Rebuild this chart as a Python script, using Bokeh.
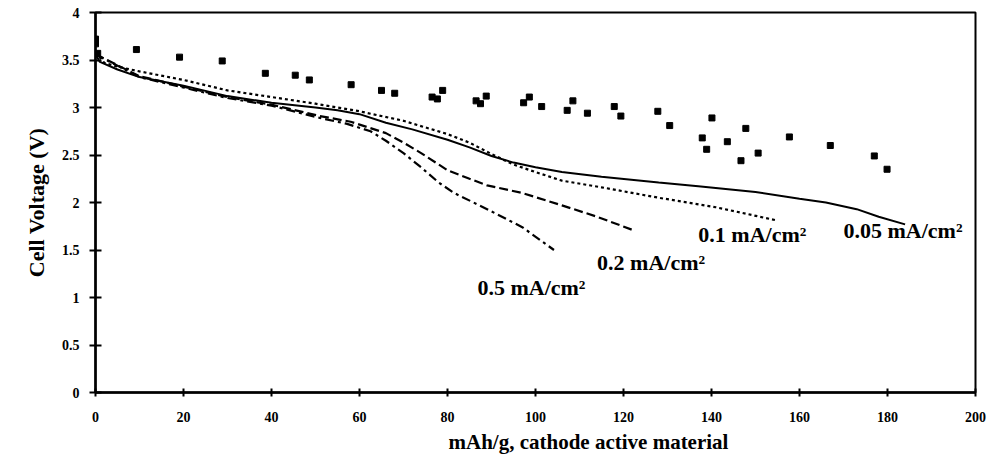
from bokeh.plotting import figure
from bokeh.models import Range1d, FixedTicker, ColumnDataSource, Title
from bokeh.core.properties import value
from bokeh.embed import file_html
from bokeh.resources import INLINE

# ---- data ----
x_005 = [0, 1, 5, 10, 20, 30, 40, 50, 55, 60, 66, 72, 80, 85, 90, 95, 100, 106, 115, 128, 137, 150, 160, 166, 173, 178, 184]
y_005 = [3.56, 3.48, 3.40, 3.32, 3.23, 3.12, 3.05, 3.00, 2.97, 2.93, 2.84, 2.77, 2.66, 2.58, 2.49, 2.42, 2.37, 2.32, 2.27, 2.21, 2.17, 2.11, 2.04, 2.00, 1.93, 1.85, 1.77]

x_01 = [0, 2, 5, 10, 20, 30, 40, 50, 60, 70, 80, 85, 90, 95, 100, 106, 115, 128, 141, 148, 155]
y_01 = [3.58, 3.47, 3.43, 3.38, 3.29, 3.18, 3.11, 3.04, 2.96, 2.86, 2.72, 2.63, 2.51, 2.40, 2.32, 2.23, 2.16, 2.05, 1.95, 1.88, 1.81]

x_02 = [0, 10, 20, 30, 40, 51, 58, 66, 70, 74, 80, 85, 89, 97, 106, 114, 122.7]
y_02 = [3.56, 3.33, 3.22, 3.11, 3.03, 2.91, 2.85, 2.73, 2.63, 2.52, 2.34, 2.25, 2.18, 2.10, 1.97, 1.85, 1.70]

x_05 = [0, 10, 20, 30, 40, 51, 57, 62.5, 66, 70, 74, 78, 81.5, 89, 97, 104.2]
y_05 = [3.56, 3.32, 3.21, 3.10, 3.02, 2.89, 2.83, 2.75, 2.65, 2.52, 2.37, 2.21, 2.10, 1.93, 1.74, 1.50]

pts_x = [0, 0, 0.5, 9.3, 19.1, 28.8, 38.6, 45.4, 48.6, 58.1, 65, 68, 76.5, 77.7, 78.9, 86.5, 87.5, 88.8,
         97.3, 98.6, 101.4, 107.2, 108.5, 111.8, 117.9, 119.4, 127.8, 130.5, 137.9, 138.9, 140.1, 143.6,
         146.7, 147.8, 150.6, 157.7, 167, 177, 179.9]
pts_y = [3.72, 3.67, 3.57, 3.61, 3.53, 3.49, 3.36, 3.34, 3.29, 3.24, 3.18, 3.15, 3.11, 3.09, 3.18, 3.07, 3.04, 3.12,
         3.05, 3.11, 3.01, 2.97, 3.07, 2.94, 3.01, 2.91, 2.96, 2.81, 2.68, 2.56, 2.89, 2.64,
         2.44, 2.78, 2.52, 2.69, 2.60, 2.49, 2.35]

series_labels = ["0.05 mA/cm\u00b2", "0.1 mA/cm\u00b2", "0.2 mA/cm\u00b2", "0.5 mA/cm\u00b2"]
label_x = [170, 137, 114, 86.8]
label_y = [1.71, 1.66, 1.37, 1.11]

x_ticks = [0, 20, 40, 60, 80, 100, 120, 140, 160, 180, 200]
x_tick_labels = ["0", "20", "40", "60", "80", "100", "120", "140", "160", "180", "200"]
y_ticks = [0, 0.5, 1, 1.5, 2, 2.5, 3, 3.5, 4]
y_tick_labels = ["0", "0.5", "1", "1.5", "2", "2.5", "3", "3.5", "4"]

x_title = "mAh/g, cathode active material"
y_title = "Cell Voltage (V)"

FONT = "Liberation Serif"

W, H = 988, 456
p = figure(width=W, height=H, output_backend="svg", toolbar_location=None,
           x_range=Range1d(0, 200), y_range=Range1d(0, 4),
           min_border_left=95, min_border_right=13, min_border_top=12, min_border_bottom=64)
p.xgrid.visible = False
p.ygrid.visible = False
p.background_fill_color = "white"
p.border_fill_color = "white"
p.outline_line_color = "black"
p.outline_line_width = 2

for ax in (p.xaxis[0], p.yaxis[0]):
    ax.axis_line_width = 2.5
    ax.axis_line_color = "black"
    ax.major_tick_line_color = "black"
    ax.major_tick_line_width = 2
    ax.minor_tick_line_color = None
    ax.major_label_text_font = FONT
    ax.major_label_text_font_style = "bold"
    ax.major_label_text_font_size = "14px"
    ax.major_label_text_color = "black"

p.xaxis.ticker = FixedTicker(ticks=x_ticks)
p.xaxis.major_label_overrides = {t: l for t, l in zip(x_ticks, x_tick_labels)}
p.xaxis.major_tick_in = 4
p.xaxis.major_tick_out = 4
p.xaxis.major_label_standoff = 15

p.yaxis.ticker = FixedTicker(ticks=y_ticks)
p.yaxis.major_label_overrides = {t: l for t, l in zip(y_ticks, y_tick_labels)}
p.yaxis.major_tick_in = 6
p.yaxis.major_tick_out = 6
p.yaxis.major_label_standoff = 10
p.yaxis.axis_label = y_title
p.yaxis.axis_label_text_font = FONT
p.yaxis.axis_label_text_font_style = "bold"
p.yaxis.axis_label_text_font_size = "22px"
p.yaxis.axis_label_text_color = "black"
p.yaxis.axis_label_standoff = 10

# curves
p.line(x_005, y_005, line_color="black", line_width=2)
p.line(x_01, y_01, line_color="black", line_width=2.2, line_dash="3 3")
p.line(x_02, y_02, line_color="black", line_width=2.2, line_dash="9 4")
p.line(x_05, y_05, line_color="black", line_width=2.2, line_dash="9 4 3 4")

# square points
p.scatter(pts_x, pts_y, marker="square", size=6, fill_color="black", line_color="black")

# curve labels
src = ColumnDataSource(dict(x=label_x, y=label_y, t=series_labels))
p.text(x="x", y="y", text="t", source=src, text_font=value(FONT), text_font_style="bold",
       text_font_size="22px", text_color="black", text_align="left", text_baseline="middle")

# x axis title, placed like the reference (right of centre)
p.add_layout(Title(text=x_title, align="left", offset=353, text_font=FONT,
                   text_font_style="bold", text_font_size="21px", text_color="black",
                   standoff=6), "below")

open("out.html", "w").write(file_html(p, INLINE))
